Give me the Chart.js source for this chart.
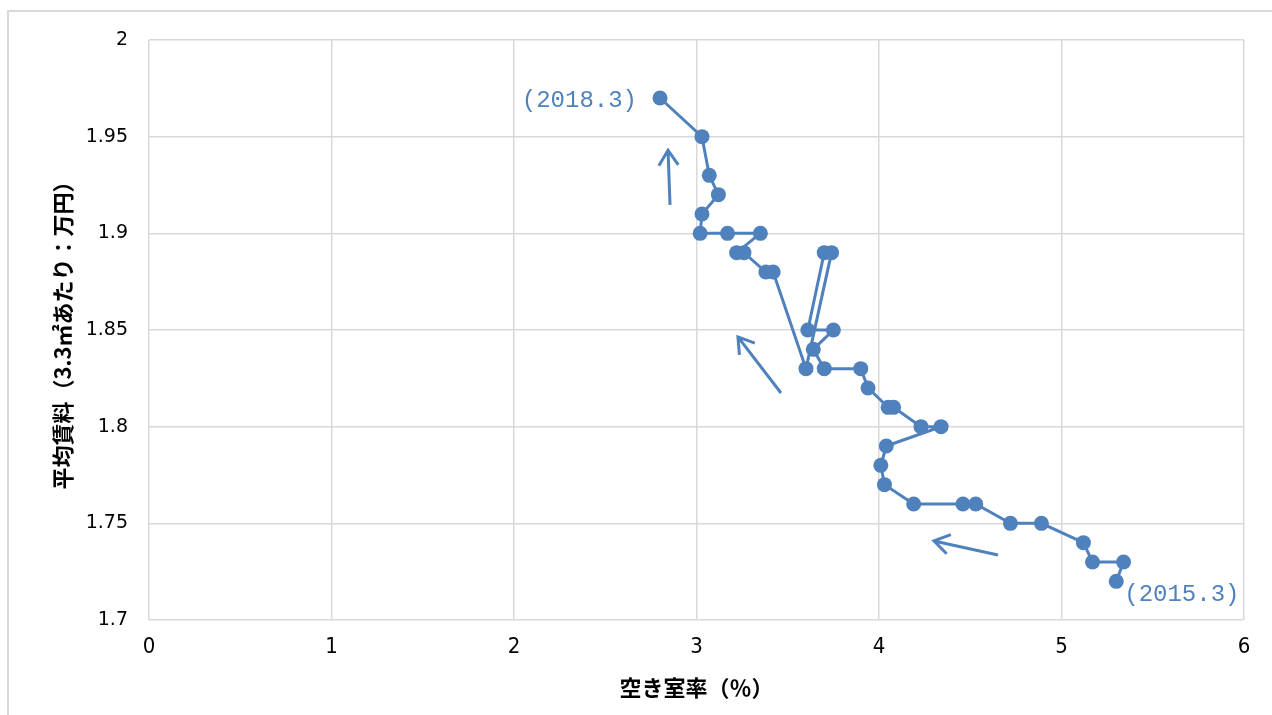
<!DOCTYPE html>
<html lang="ja">
<head>
<meta charset="utf-8">
<title>空き室率と平均賃料</title>
<script src="https://cdn.jsdelivr.net/npm/chart.js@4.4.1/dist/chart.umd.min.js"></script>
<style>
  html, body { margin: 0; padding: 0; background: #ffffff; overflow: hidden; }
  #frame {
    position: absolute; left: 7px; top: 10px; width: 1400px; height: 800px;
    border-left: 2px solid #d9d9d9; border-top: 2px solid #d9d9d9;
  }
  #wrap { position: absolute; left: 0; top: 0; width: 1272px; height: 715px; }
</style>
</head>
<body>
<div id="frame"></div>
<div id="wrap"><canvas id="chart" width="1272" height="715"></canvas></div>
<script>
// Monthly observations, 2015.3 → 2018.3
const vacancyRate = [
  5.30, 5.34, 5.17, 5.12, 4.89, 4.72, 4.53, 4.46, 4.19, 4.03,
  4.01, 4.04, 4.34, 4.23, 4.08, 4.05, 3.94, 3.90, 3.70, 3.64,
  3.75, 3.61, 3.70, 3.74, 3.60, 3.42, 3.38, 3.26, 3.22, 3.35,
  3.17, 3.02, 3.03, 3.12, 3.07, 3.03, 2.80
];
const averageRent = [
  1.72, 1.73, 1.73, 1.74, 1.75, 1.75, 1.76, 1.76, 1.76, 1.77,
  1.78, 1.79, 1.80, 1.80, 1.81, 1.81, 1.82, 1.83, 1.83, 1.84,
  1.85, 1.85, 1.89, 1.89, 1.83, 1.88, 1.88, 1.89, 1.89, 1.90,
  1.90, 1.90, 1.91, 1.92, 1.93, 1.95, 1.97
];

// Axis tick labels
const xTickLabels = ['0', '1', '2', '3', '4', '5', '6'];
const yTickLabels = ['1.7', '1.75', '1.8', '1.85', '1.9', '1.95', '2'];

// Period labels attached to the first and last observations
const startLabel = '(2015.3)';
const endLabel = '(2018.3)';

// Direction arrows (tail → head), in axis units
const arrowTails = [[4.652, 1.7336], [3.463, 1.8174], [2.855, 1.9147]];
const arrowHeads = [[4.301, 1.7409], [3.227, 1.8464], [2.844, 1.9430]];

const BLUE = '#4f81bd';
const NARROW = '"DejaVu Sans Condensed", "Liberation Mono", monospace';

const points = vacancyRate.map((v, i) => ({ x: v, y: averageRent[i] }));

const annotations = {
  id: 'annotations',
  afterDatasetsDraw(chart) {
    const { ctx, scales: { x, y } } = chart;
    ctx.save();
    // arrows
    ctx.strokeStyle = BLUE;
    ctx.lineWidth = 3;
    ctx.lineCap = 'butt';
    arrowTails.forEach((t, i) => {
      const h = arrowHeads[i];
      const x0 = x.getPixelForValue(t[0]), y0 = y.getPixelForValue(t[1]);
      const x1 = x.getPixelForValue(h[0]), y1 = y.getPixelForValue(h[1]);
      const ang = Math.atan2(y1 - y0, x1 - x0);
      const len = 18, spread = Math.PI / 5.5;
      ctx.beginPath();
      ctx.moveTo(x0, y0);
      ctx.lineTo(x1, y1);
      ctx.moveTo(x1 - len * Math.cos(ang - spread), y1 - len * Math.sin(ang - spread));
      ctx.lineTo(x1, y1);
      ctx.lineTo(x1 - len * Math.cos(ang + spread), y1 - len * Math.sin(ang + spread));
      ctx.stroke();
    });
    // period labels
    ctx.fillStyle = BLUE;
    ctx.font = '24px "Liberation Mono", "DejaVu Sans Mono", monospace';
    ctx.textBaseline = 'middle';
    const first = points[0], last = points[points.length - 1];
    ctx.textAlign = 'left';
    ctx.fillText(startLabel, x.getPixelForValue(first.x) + 8, y.getPixelForValue(first.y) + 13);
    ctx.textAlign = 'right';
    ctx.fillText(endLabel, x.getPixelForValue(last.x) - 23, y.getPixelForValue(last.y) + 3);
    ctx.restore();
  }
};

new Chart(document.getElementById('chart'), {
  type: 'scatter',
  data: {
    datasets: [{
      data: points,
      showLine: true,
      borderColor: BLUE,
      backgroundColor: BLUE,
      borderWidth: 3,
      pointRadius: 7.5,
      pointHoverRadius: 7.5,
      pointBorderWidth: 0,
      tension: 0
    }]
  },
  options: {
    responsive: false,
    animation: false,
    devicePixelRatio: 1,
    layout: { padding: { left: 0, top: 40, right: 28, bottom: 0 } },
    plugins: { legend: { display: false }, tooltip: { enabled: false } },
    scales: {
      x: {
        type: 'linear',
        min: 0, max: 6,
        afterFit(scale) { scale.height = 95; },
        ticks: {
          stepSize: 1,
          padding: 14,
          color: '#000000',
          font: { family: NARROW, size: 22 },
          callback: (v, i) => xTickLabels[i]
        },
        grid: { color: '#d9d9d9', lineWidth: 1.5, drawTicks: false },
        border: { display: false },
        title: {
          display: true,
          text: '空き室率（％）',
          color: '#000000',
          font: { family: '"Noto Sans CJK JP", sans-serif', size: 22, weight: 'bold' },
          padding: { top: 0, bottom: 14 }
        }
      },
      y: {
        type: 'linear',
        min: 1.7, max: 2,
        afterFit(scale) { scale.width = 149; },
        ticks: {
          stepSize: 0.05,
          padding: 21,
          color: '#000000',
          font: { family: '"DejaVu Sans", sans-serif', size: 19 },
          callback: (v, i) => yTickLabels[i]
        },
        grid: { color: '#d9d9d9', lineWidth: 1.5, drawTicks: false },
        border: { display: false },
        title: {
          display: true,
          text: '平均賃料（3.3㎡あたり：万円）',
          color: '#000000',
          font: { family: '"Noto Sans CJK JP", sans-serif', size: 22, weight: 'bold' },
          padding: { top: 49, bottom: 0 }
        }
      }
    }
  },
  plugins: [annotations]
});
</script>
</body>
</html>
